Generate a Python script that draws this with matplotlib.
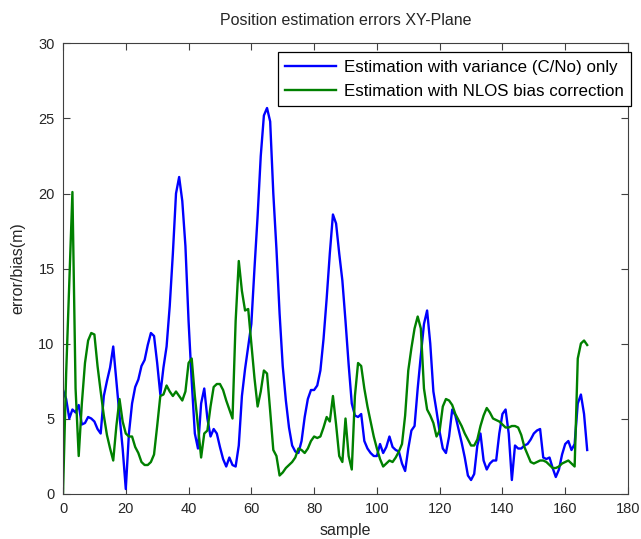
import numpy as np
import matplotlib
matplotlib.use("Agg")
import matplotlib.pyplot as plt

plt.rcParams["font.family"] = ["Liberation Sans", "DejaVu Sans"]

# error per sample
err_variance = [
    6.9, 6.3, 5.0, 5.6, 5.4, 5.9, 4.6, 4.7, 5.1, 5.0,
    4.8, 4.3, 4.0, 6.5, 7.5, 8.4, 9.8, 7.5, 5.2, 3.0,
    0.3, 4.0, 6.0, 7.1, 7.6, 8.5, 8.9, 9.9, 10.7, 10.5,
    8.7, 6.6, 8.4, 9.8, 12.5, 16.0, 20.0, 21.1, 19.5, 16.5,
    11.5, 7.5, 4.0, 3.0, 6.0, 7.0, 5.0, 3.8, 4.3, 4.0,
    3.1, 2.3, 1.8, 2.4, 1.9, 1.8, 3.2, 6.5, 8.3, 9.8,
    11.3, 15.0, 18.5, 22.5, 25.2, 25.7, 24.8, 20.0, 16.3, 12.0,
    8.5, 6.2, 4.4, 3.2, 2.8, 2.7, 3.5, 5.1, 6.3, 6.9,
    6.9, 7.2, 8.2, 10.3, 13.0, 16.0, 18.6, 18.0, 16.0, 14.2,
    11.5, 8.6, 6.0, 5.2, 5.1, 5.3, 3.5, 3.0, 2.7, 2.5,
    2.5, 3.3, 2.7, 3.1, 3.8, 3.1, 2.9, 2.8, 2.0, 1.5,
    3.0, 4.2, 4.5, 7.0, 9.2, 11.3, 12.2, 10.0, 6.8, 5.5,
    4.1, 3.0, 2.7, 3.8, 5.6, 5.2, 4.3, 3.4, 2.4, 1.2,
    0.9, 1.3, 3.2, 4.0, 2.2, 1.6, 2.0, 2.2, 2.2, 4.0,
    5.3, 5.6, 4.0, 0.9, 3.2, 3.0, 3.0, 3.2, 3.3, 3.6,
    4.0, 4.2, 4.3, 2.4, 2.3, 2.4, 1.7, 1.1, 1.6, 2.6,
    3.3, 3.5, 2.9, 3.3, 6.0, 6.6, 5.3, 2.9,
]

err_nlos = [
    0.0, 8.0, 14.0, 20.1, 7.0, 2.5, 6.0, 8.7, 10.2, 10.7,
    10.6, 8.5, 6.8, 5.2, 3.9, 3.0, 2.2, 4.5, 6.3, 4.8,
    4.0, 3.8, 3.8, 3.1, 2.7, 2.1, 1.9, 1.9, 2.1, 2.6,
    4.5, 6.5, 6.6, 7.2, 6.8, 6.5, 6.8, 6.5, 6.2, 6.8,
    8.7, 9.0, 6.5, 4.5, 2.4, 4.0, 4.2, 5.8, 7.1, 7.3,
    7.3, 6.9, 6.2, 5.6, 5.0, 11.5, 15.5, 13.5, 12.2, 12.3,
    10.0, 7.7, 5.8, 6.8, 8.2, 8.0, 5.5, 2.9, 2.5, 1.2,
    1.4, 1.7, 1.9, 2.1, 2.4, 3.0, 2.9, 2.7, 3.0, 3.5,
    3.8, 3.7, 3.8, 4.4, 5.1, 4.8, 6.5, 4.6, 2.5, 2.1,
    5.0, 2.5, 1.6, 6.5, 8.7, 8.5, 7.0, 5.8, 4.8, 3.8,
    3.0, 2.3, 1.8, 2.0, 2.2, 2.1, 2.4, 2.8, 3.3, 5.2,
    8.2, 9.7, 11.0, 11.8, 11.0, 7.0, 5.6, 5.2, 4.7, 3.8,
    4.2, 5.8, 6.3, 6.2, 5.9, 5.3, 4.9, 4.5, 4.0, 3.6,
    3.2, 3.2, 3.6, 4.5, 5.2, 5.7, 5.4, 5.0, 4.9, 4.8,
    4.6, 4.4, 4.4, 4.5, 4.5, 4.4, 3.9, 3.1, 2.6, 2.1,
    2.0, 2.1, 2.2, 2.2, 2.1, 1.9, 1.7, 1.7, 1.8, 2.0,
    2.1, 2.2, 2.0, 1.8, 9.0, 10.0, 10.2, 9.9,
]

labels = ["Estimation with variance (C/No) only",
          "Estimation with NLOS bias correction"]

samples = np.arange(len(err_variance))
txt = "#262626"

fig = plt.figure(figsize=(6.41, 5.39), dpi=100)
ax = fig.add_axes([0.0983, 0.0844, 0.8814, 0.8349])

ax.plot(samples, err_variance, color="#0000ff", lw=1.7, label=labels[0])
ax.plot(samples, err_nlos, color="#008000", lw=1.7, label=labels[1])

ax.set_xlim(0, 180)
ax.set_ylim(0, 30)
ax.set_xticks(range(0, 181, 20))
ax.set_yticks(range(0, 31, 5))
ax.tick_params(direction="in", length=5, width=0.8, top=True, right=True,
               labelsize=10.5, colors="#404040", labelcolor=txt, pad=6)
for sp in ax.spines.values():
    sp.set_color("#404040")
    sp.set_linewidth(0.8)

ax.set_title("Position estimation errors XY-Plane", fontsize=11.5, color=txt, pad=13)
ax.set_xlabel("sample", fontsize=11.5, color=txt, labelpad=5)
ax.set_ylabel("error/bias(m)", fontsize=11.5, color=txt, labelpad=9)

leg = ax.legend(loc="upper right", bbox_to_anchor=(1.006, 0.98), borderaxespad=0,
                fontsize=12.2, fancybox=False, framealpha=1, edgecolor="black",
                handlelength=3.0, handletextpad=0.45, borderpad=0.45, labelspacing=0.5)
leg.get_frame().set_linewidth(0.9)

fig.savefig("out.png", dpi=100)
